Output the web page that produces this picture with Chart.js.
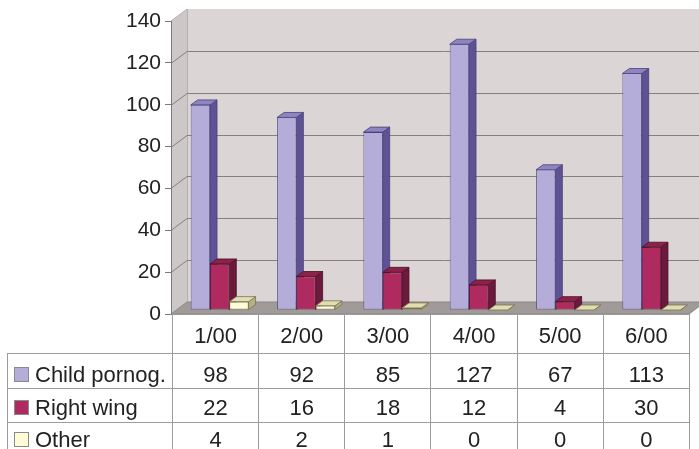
<!DOCTYPE html>
<html>
<head>
<meta charset="utf-8">
<script src="https://cdn.jsdelivr.net/npm/chart.js@4.4.0/dist/chart.umd.min.js"></script>
<style>
  html, body { margin: 0; padding: 0; background: #fff; overflow: hidden; }
  #wrap { position: relative; width: 699px; height: 449px; overflow: hidden; }
  #c { position: absolute; left: 0; top: 0; }
  #dt {
    position: absolute; left: 7px; top: 314px;
    border-collapse: collapse; table-layout: fixed; width: 682px;
    font: 22px "Liberation Sans", Arial, sans-serif; line-height: 22px; color: #222;
  }
  #dt td {
    border: 1px solid #9c9c9c; padding: 0; vertical-align: top;
    text-align: center; white-space: nowrap; overflow: hidden;
  }
  #dt td.blank { border-top: none; border-left: none; }
  #dt td.lab { text-align: left; padding-left: 6px; }
  .sw { display: inline-block; width: 13px; height: 13px; border: 1px solid #8a8a8a; margin-right: 6px; vertical-align: baseline; }
</style>
</head>
<body>
<div id="wrap">
  <canvas id="c" width="699" height="449"></canvas>
  <table id="dt"></table>
</div>
<script>
// Monthly counts per category
const categories = ['1/00', '2/00', '3/00', '4/00', '5/00', '6/00'];
const seriesNames = ['Child pornog.', 'Right wing', 'Other'];
const childPornog = [98, 92, 85, 127, 67, 113];
const rightWing = [22, 16, 18, 12, 4, 30];
const other = [4, 2, 1, 0, 0, 0];
const yTicks = [0, 20, 40, 60, 80, 100, 120, 140];

const seriesValues = [childPornog, rightWing, other];

// Face colours for the extruded columns
const FACES = [
  { front: '#b4acd9', side: '#5e5294', top: '#8d84c2', edge: '#4a3f78' },
  { front: '#ae2a5f', side: '#6b1a3b', top: '#8c2249', edge: '#4a0f28' },
  { front: '#fffcd6', side: '#b4b184', top: '#e2deb2', edge: '#77744f' }
];

const WALL_DEPTH = { x: 16, y: -12 };   // depth of the back wall
const BAR_SHIFT = { x: 5.5, y: -4 };    // columns sit part-way into the box
const BAR_DEPTH = { x: 7, y: -5 };      // thickness of each column

function poly(ctx, pts, fill, stroke, lw) {
  ctx.beginPath();
  ctx.moveTo(pts[0][0], pts[0][1]);
  for (let i = 1; i < pts.length; i++) ctx.lineTo(pts[i][0], pts[i][1]);
  ctx.closePath();
  if (fill) { ctx.fillStyle = fill; ctx.fill(); }
  if (stroke) { ctx.strokeStyle = stroke; ctx.lineWidth = lw || 1; ctx.stroke(); }
}

const box3d = {
  id: 'box3d',
  beforeDraw(chart) {
    const { ctx, chartArea: a, scales: { y } } = chart;
    const dx = WALL_DEPTH.x, dy = WALL_DEPTH.y;
    ctx.save();
    // back wall
    ctx.fillStyle = '#dbd5d5';
    ctx.fillRect(a.left + dx, a.top + dy, a.right - a.left + 30, a.bottom - a.top);
    // left wall
    poly(ctx, [[a.left, a.top], [a.left + dx, a.top + dy], [a.left + dx, a.bottom + dy], [a.left, a.bottom]], '#cdc8c8');
    ctx.strokeStyle = '#b5b0b0';
    ctx.lineWidth = 1;
    ctx.beginPath();
    ctx.moveTo(a.left, a.top); ctx.lineTo(a.left + dx, a.top + dy);
    ctx.moveTo(a.left + dx + 0.5, a.top + dy); ctx.lineTo(a.left + dx + 0.5, a.bottom + dy);
    ctx.stroke();
    // floor
    poly(ctx, [[a.left, a.bottom], [a.right, a.bottom], [a.right + dx, a.bottom + dy], [a.left + dx, a.bottom + dy]], '#a09b99', '#8a8684', 1);
    // grid lines across left wall and back wall
    ctx.strokeStyle = '#857f7f';
    ctx.lineWidth = 1;
    yTicks.forEach(v => {
      if (v === 0 || v === yTicks[yTicks.length - 1]) return;
      const py = Math.round(y.getPixelForValue(v)) + 0.5;
      ctx.beginPath();
      ctx.moveTo(a.left, py);
      ctx.lineTo(a.left + dx, py + dy);
      ctx.lineTo(a.right + dx + 30, py + dy);
      ctx.stroke();
    });
    ctx.restore();
  },
  beforeDatasetsDraw(chart) {
    const { ctx } = chart;
    const sx = BAR_SHIFT.x, sy = BAR_SHIFT.y, bx = BAR_DEPTH.x, by = BAR_DEPTH.y;
    ctx.save();
    ctx.lineJoin = 'round';
    // side and top faces, category by category, left to right
    for (let i = 0; i < categories.length; i++) {
      for (let d = 0; d < seriesValues.length; d++) {
        const el = chart.getDatasetMeta(d).data[i];
        const p = el.getProps(['x', 'y', 'base', 'width'], true);
        const l = p.x - p.width / 2 + sx, r = p.x + p.width / 2 + sx;
        const t = p.y + sy, b = p.base + sy;
        const f = FACES[d];
        poly(ctx, [[r, t], [r + bx, t + by], [r + bx, b + by], [r, b]], f.side, f.edge, 0.8);
        poly(ctx, [[l, t], [r, t], [r + bx, t + by], [l + bx, t + by]], f.top, f.edge, 0.8);
      }
    }
    ctx.restore();
    // front faces are drawn by the bar controller, moved into the box
    ctx.save();
    ctx.translate(sx, sy);
  },
  afterDatasetsDraw(chart) {
    chart.ctx.restore();
  }
};

new Chart(document.getElementById('c'), {
  type: 'bar',
  data: {
    labels: categories,
    datasets: seriesValues.map((vals, d) => ({
      label: seriesNames[d],
      data: vals,
      backgroundColor: FACES[d].front,
      borderColor: FACES[d].edge,
      borderWidth: 0.8,
      borderSkipped: false
    }))
  },
  options: {
    responsive: false,
    animation: false,
    devicePixelRatio: 1,
    layout: { padding: { top: 21, bottom: 135, right: 10, left: 0 } },
    datasets: { bar: { categoryPercentage: 0.67, barPercentage: 1 } },
    plugins: { legend: { display: false }, tooltip: { enabled: false } },
    scales: {
      x: { display: false },
      y: {
        min: 0, max: 140,
        afterFit(s) { s.width = 171; },
        afterBuildTicks(s) { s.ticks = yTicks.map(v => ({ value: v })); },
        ticks: {
          font: { family: '"Liberation Sans", Arial, sans-serif', size: 21 },
          color: '#222', padding: 4
        },
        grid: { drawOnChartArea: false, tickLength: 6, color: '#7a7a7a', tickColor: '#7a7a7a' },
        border: { color: '#7a7a7a' }
      }
    }
  },
  plugins: [box3d]
});

// Data table under the plot, built from the same arrays
(function buildTable() {
  const rowPad = [10, 10, 8, 6];
  const rowH = [39, 35, 34, 34];
  let html = '<colgroup><col style="width:165px">' +
    categories.map(() => '<col style="width:86.17px">').join('') + '</colgroup>';
  html += `<tr style="height:${rowH[0]}px"><td class="blank"></td>` +
    categories.map(c => `<td style="padding-top:${rowPad[0]}px">${c}</td>`).join('') + '</tr>';
  seriesNames.forEach((name, d) => {
    const pad = rowPad[d + 1];
    html += `<tr style="height:${rowH[d + 1]}px"><td class="lab" style="padding-top:${pad}px">` +
      `<span class="sw" style="background:${FACES[d].front}"></span>${name}</td>` +
      seriesValues[d].map(v => `<td style="padding-top:${pad}px">${v}</td>`).join('') + '</tr>';
  });
  document.getElementById('dt').innerHTML = html;
})();
</script>
</body>
</html>
